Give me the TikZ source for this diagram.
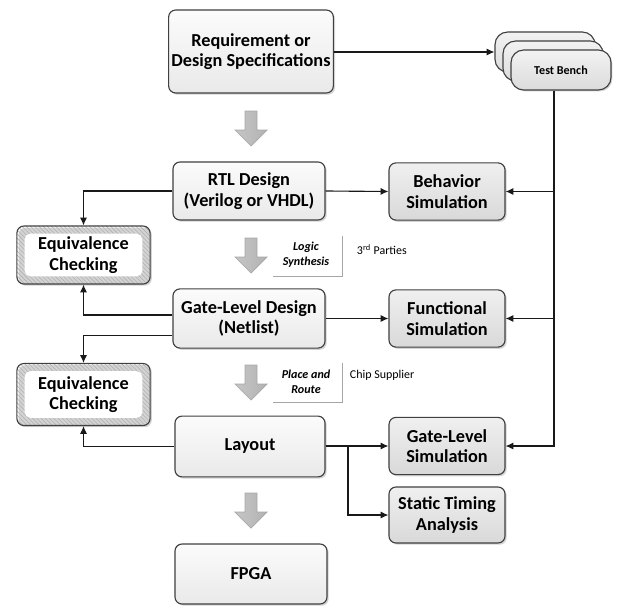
\documentclass[tikz,border=0pt]{standalone}
\usepackage{fontspec}
\setmainfont{Carlito}
\usetikzlibrary{arrows.meta,patterns,shadows}

% gray block arrow between two flow steps (top centre x, top y)
\newcommand{\flowarrow}[2]{%
  \draw[flowarr] (#1-6,#2) -- (#1+6,#2) -- (#1+6,#2+19) -- (#1+16,#2+19)
    -- (#1,#2+35) -- (#1-16,#2+19) -- (#1-6,#2+19) -- cycle;}

\begin{document}
\begin{tikzpicture}[x=0.025cm,y=-0.025cm,
	box/.style={draw=black!75, line width=0.8pt, rounded corners=5pt,
		top color=gray!3, bottom color=gray!17,
		drop shadow={shadow xshift=1.2pt,shadow yshift=-1.2pt,opacity=0.35},
		align=center, inner sep=2pt, minimum width=3.8cm, minimum height=1.45cm,
		font=\fontsize{13}{14.5}\selectfont\bfseries},
	simbox/.style={box, top color=gray!12, bottom color=gray!30,
		minimum width=2.9cm, minimum height=1.43cm},
	ecbox/.style={draw=black!75, line width=0.8pt, rounded corners=5pt,
		pattern=north west lines, pattern color=gray!60,
		drop shadow={shadow xshift=1.2pt,shadow yshift=-1.2pt,opacity=0.35},
		path picture={\fill[white, rounded corners=4pt]
			([shift={(5.5pt,5.5pt)}]path picture bounding box.south west) rectangle
			([shift={(-5.5pt,-5.5pt)}]path picture bounding box.north east);},
		align=center, minimum width=3.33cm, minimum height=1.45cm,
		font=\fontsize{13}{14.5}\selectfont\bfseries},
	tbox/.style={draw=black!75, line width=0.8pt, rounded corners=9pt,
		top color=gray!10, bottom color=gray!28,
		drop shadow={shadow xshift=1pt,shadow yshift=-1pt,opacity=0.35},
		minimum width=2.5cm, minimum height=1cm,
		font=\fontsize{8.6}{10}\selectfont\bfseries},
	conn/.style={line width=0.8pt, black!90, -{Latex[length=5.5pt,width=5pt]}},
	flowarr/.style={draw=gray!70, line width=0.5pt, left color=gray!45, right color=gray!60},
	bracket/.style={line width=0.6pt, gray!70},
	steplabel/.style={font=\fontsize{8.6}{10.5}\selectfont\bfseries\itshape, align=center},
	sidelabel/.style={font=\fontsize{8.5}{10}\selectfont, anchor=west}]
	\useasboundingbox (0,0) rectangle (617,605);

	%main flow
	\node[box, minimum height=2.075cm] (req) at (251,51.5) {Requirement or\\Design Specifications};
	\node[box] (rtl) at (249,191) {RTL Design\\(Verilog or VHDL)};
	\node[box, minimum height=1.48cm] (gld) at (249,318.5) {Gate-Level Design\\(Netlist)};
	\node[box, minimum width=3.75cm, minimum height=1.52cm] (layout) at (250,446.5) {Layout};
	\node[box, minimum height=1.5cm] (fpga) at (251,574) {FPGA};

	%test bench
	\node[tbox] (tb1) at (545,52) {};
	\node[tbox] (tb2) at (553,61) {};
	\node[tbox] (tb3) at (561,70) {Test Bench};

	%simulations
	\node[simbox] (bsim) at (447,191.5) {Behavior\\Simulation};
	\node[simbox] (fsim) at (447,318.5) {Functional\\Simulation};
	\node[simbox] (glsim) at (447,446) {Gate-Level\\Simulation};
	\node[simbox, minimum height=1.4cm] (sta) at (447,515) {Static Timing\\Analysis};

	%equivalence checks
	\node[ecbox] (ec1) at (83.5,255) {Equivalence\\Checking};
	\node[ecbox, minimum height=1.55cm] (ec2) at (83.5,394.5) {Equivalence\\Checking};

	%block arrows
	\flowarrow{251}{111}
	\flowarrow{251}{238}
	\flowarrow{251}{365}
	\flowarrow{251}{493}

	%tool steps
	\node[steplabel] (synth) at (306,255) {Logic\\Synthesis};
	\draw[bracket] (342,236) |- (273,276);
	\node[sidelabel] (third) at (352,250) {3\textsuperscript{rd} Parties};
	\node[steplabel] (pnr) at (306,382) {Place and\\Route};
	\draw[bracket] (342,363) |- (273,402);
	\node[sidelabel] (chip) at (345,375) {Chip Supplier};

	%connections
	\coordinate (rail) at (554,0);
	\coordinate (br) at (348,446);
	\draw[conn] (req.east |- tb1.west) -- (tb1.west);
	\draw[conn] (tb3.south -| rail) |- (glsim.east);
	\draw[conn] (rail |- bsim.east) -- (bsim.east);
	\draw[conn] (rail |- fsim.east) -- (fsim.east);
	\draw[conn] (rtl.east) -- (bsim.west);
	\draw[conn] (gld.east) -- (fsim.west);
	\draw[conn] (layout.east |- glsim.west) -- (glsim.west);
	\draw[conn] (br) |- (sta.west);
	\draw[conn] (rtl.west) -| (ec1.north);
	\draw[conn] ([yshift=2.5pt]gld.west) -| (ec1.south);
	\draw[conn] ([yshift=-12pt]gld.west) -| (ec2.north);
	\draw[conn] (layout.west) -| (ec2.south);

\end{tikzpicture}
\end{document}
